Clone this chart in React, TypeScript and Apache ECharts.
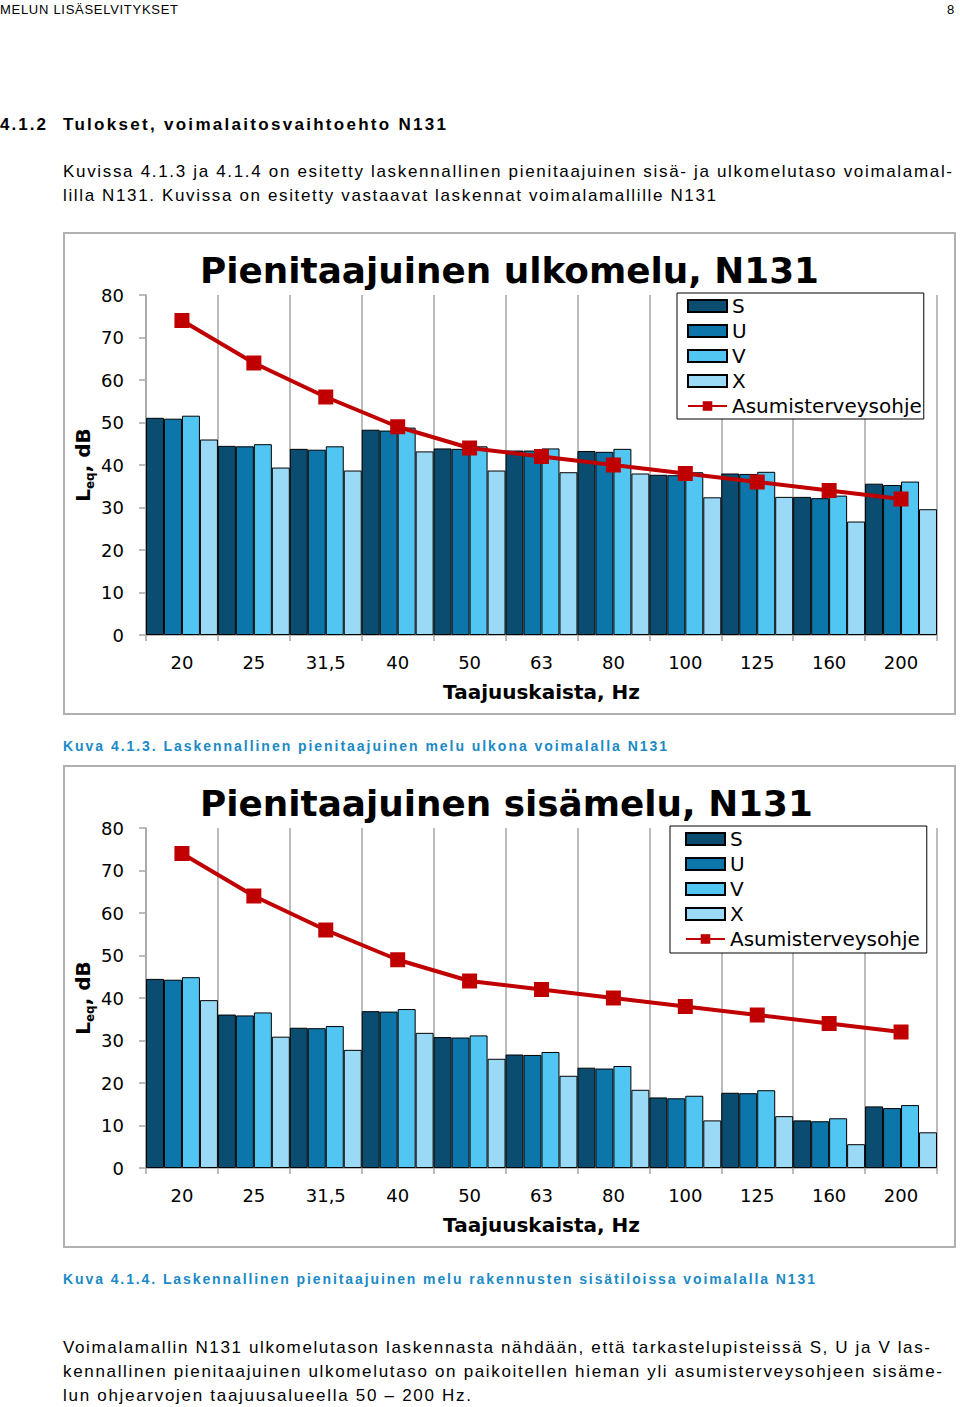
import React, { useEffect, useLayoutEffect, useRef } from "react";
import * as echarts from "echarts";

// ---- data ----
const categories = ["20", "25", "31,5", "40", "50", "63", "80", "100", "125", "160", "200"];
const yTicks = [0, 10, 20, 30, 40, 50, 60, 70, 80];
const seriesNames = ["S", "U", "V", "X"];
const guideName = "Asumisterveysohje";
const guideline = [74, 64, 56, 49, 44, 42, 40, 38, 36, 34, 32];

const outS = [51.1, 44.5, 43.8, 48.3, 43.9, 43.4, 43.3, 37.7, 38.0, 32.5, 35.6];
const outU = [50.9, 44.4, 43.6, 48.1, 43.8, 43.4, 43.1, 37.6, 37.9, 32.2, 35.3];
const outV = [51.6, 44.9, 44.4, 48.8, 44.4, 43.9, 43.8, 38.3, 38.4, 32.8, 36.1];
const outX = [46.0, 39.4, 38.7, 43.2, 38.7, 38.3, 38.0, 32.4, 32.5, 26.7, 29.6];

const inS = [44.5, 36.1, 33.0, 36.9, 30.8, 26.7, 23.6, 16.6, 17.7, 11.2, 14.5];
const inU = [44.3, 35.9, 32.9, 36.8, 30.7, 26.6, 23.4, 16.4, 17.6, 11.0, 14.1];
const inV = [44.9, 36.6, 33.4, 37.4, 31.2, 27.3, 24.0, 17.0, 18.3, 11.7, 14.8];
const inX = [39.5, 30.9, 27.8, 31.8, 25.7, 21.7, 18.4, 11.2, 12.2, 5.6, 8.4];

const title1 = "Pienitaajuinen ulkomelu, N131";
const title2 = "Pienitaajuinen sisämelu, N131";
const xName = "Taajuuskaista, Hz";

const barColors = ["#0b4d71", "#0c76aa", "#52c6f3", "#9bdaf6"];
const lineColor = "#c00000";
const gridGray = "#a6a6a6";
const FONT = '"DejaVu Sans", Verdana, sans-serif';
const DOC_FONT = '"Liberation Sans", Arial, sans-serif';
const CAPTION = "#1b8ac6";

function buildOption(title: string, values: number[][], legendPos: any) {
  const bars = values.map((vals, i) => ({
    name: seriesNames[i],
    type: "bar",
    data: vals,
    barGap: "0%",
    barCategoryGap: "0%",
    itemStyle: { color: barColors[i], borderColor: "#000", borderWidth: 1 },
    z: 2,
  }));
  return {
    animation: false,
    backgroundColor: "#fff",
    title: {
      text: title,
      left: 132,
      top: 15,
      textStyle: { fontFamily: FONT, fontWeight: "bold", fontSize: 35.8, color: "#000" },
    },
    graphic: [
      {
        type: "rect",
        silent: true,
        shape: { x: 1, y: 1, width: 891, height: 481 },
        style: { fill: "none", stroke: "#b0b0b0", lineWidth: 2 },
        z: 100,
      },
    ],
    legend: {
      orient: "vertical",
      left: legendPos.left,
      top: legendPos.top,
      padding: legendPos.padding,
      itemGap: 5,
      itemWidth: 39,
      itemHeight: 12,
      backgroundColor: "#fff",
      borderColor: "#000",
      borderWidth: 1,
      textStyle: { fontFamily: FONT, fontSize: 20, color: "#000" },
      data: [
        ...seriesNames.map((n) => ({ name: n, icon: "rect" })),
        { name: guideName },
      ],
      z: 10,
    },
    grid: { left: 83, top: 63, width: 791, height: 340, containLabel: false, outerBoundsMode: "none" },
    xAxis: {
      type: "category",
      data: categories,
      boundaryGap: true,
      name: xName,
      nameLocation: "middle",
      nameGap: 47,
      nameMoveOverlap: false,
      nameTextStyle: { fontFamily: FONT, fontWeight: "bold", fontSize: 20, color: "#000" },
      axisLine: { lineStyle: { color: gridGray, width: 1.5 } },
      axisTick: { show: true, length: 6, interval: 0, lineStyle: { color: gridGray, width: 1.5 } },
      axisLabel: { fontFamily: FONT, fontSize: 18, color: "#000", margin: 18, interval: 0 },
      splitLine: { show: true, interval: 0, lineStyle: { color: gridGray, width: 1.5 } },
    },
    yAxis: {
      type: "value",
      min: yTicks[0],
      max: yTicks[yTicks.length - 1],
      interval: 10,
      name: "{l|L}{s|eq}{l|, dB}",
      nameLocation: "middle",
      nameRotate: 90,
      nameGap: 50,
      nameMoveOverlap: false,
      nameTextStyle: {
        rich: {
          l: { fontFamily: FONT, fontWeight: "bold", fontSize: 20, color: "#000", lineHeight: 26 },
          s: { fontFamily: FONT, fontWeight: "bold", fontSize: 12, color: "#000", verticalAlign: "bottom", lineHeight: 26 },
        },
      },
      axisLine: { show: true, lineStyle: { color: gridGray, width: 1.5 } },
      axisTick: { show: true, length: 7, lineStyle: { color: gridGray, width: 1.5 } },
      axisLabel: { fontFamily: FONT, fontSize: 18, color: "#000", margin: 22 },
      splitLine: { show: false },
    },
    series: [
      ...bars,
      {
        name: guideName,
        type: "line",
        data: guideline,
        symbol: "rect",
        symbolSize: 15,
        z: 5,
        lineStyle: { color: lineColor, width: 4 },
        itemStyle: { color: lineColor },
      },
    ],
  };
}

function Chart({ left, top, option }: { left: number; top: number; option: any }) {
  const ref = useRef<HTMLDivElement>(null);
  useEffect(() => {
    const chart = echarts.init(ref.current!, null, { renderer: "svg" });
    chart.setOption(option);
    return () => chart.dispose();
  }, []);
  return <div ref={ref} style={{ position: "absolute", left, top, width: 893, height: 483 }} />;
}

type LineProps = { text: string; x: number; y: number; w?: number; size: number; bold?: boolean; color?: string };

function TextLine({ text, x, y, w, size, bold, color }: LineProps) {
  const ref = useRef<HTMLSpanElement>(null);
  useLayoutEffect(() => {
    const el = ref.current;
    if (!el || !w) return;
    el.style.letterSpacing = "0px";
    const natural = el.getBoundingClientRect().width;
    const n = Array.from(text).length;
    if (n > 1) el.style.letterSpacing = (w - natural) / (n - 1) + "px";
  }, [text, w]);
  const lh = size * 1.2;
  return (
    <span
      ref={ref}
      style={{
        position: "absolute",
        left: x,
        top: y - lh / 2,
        fontSize: size,
        lineHeight: lh + "px",
        fontFamily: DOC_FONT,
        fontWeight: bold ? "bold" : "normal",
        color: color || "#000",
        whiteSpace: "nowrap",
      }}
    >
      {text}
    </span>
  );
}

const docLines: LineProps[] = [
  { text: "MELUN LISÄSELVITYKSET", x: 0, y: 10, w: 178, size: 13 },
  { text: "8", x: 947, y: 10, size: 13 },
  { text: "4.1.2", x: 0, y: 125, w: 46, size: 17, bold: true },
  { text: "Tulokset, voimalaitosvaihtoehto N131", x: 63, y: 125, w: 383, size: 17, bold: true },
  { text: "Kuvissa 4.1.3 ja 4.1.4 on esitetty laskennallinen pienitaajuinen sisä- ja ulkomelutaso voimalamal-", x: 63, y: 172, w: 889, size: 17 },
  { text: "lilla N131. Kuvissa on esitetty vastaavat laskennat voimalamallille N131", x: 63, y: 196, w: 653, size: 17 },
  { text: "Kuva 4.1.3. Laskennallinen pienitaajuinen melu ulkona voimalalla N131", x: 63, y: 746, w: 604, size: 14, bold: true, color: CAPTION },
  { text: "Kuva 4.1.4. Laskennallinen pienitaajuinen melu rakennusten sisätiloissa voimalalla N131", x: 63, y: 1279, w: 752, size: 14, bold: true, color: CAPTION },
  { text: "Voimalamallin N131 ulkomelutason laskennasta nähdään, että tarkastelupisteissä S, U ja V las-", x: 63, y: 1348, w: 867, size: 17 },
  { text: "kennallinen pienitaajuinen ulkomelutaso on paikoitellen hieman yli asumisterveysohjeen sisäme-", x: 63, y: 1372, w: 879, size: 17 },
  { text: "lun ohjearvojen taajuusalueella 50 – 200 Hz.", x: 63, y: 1396, w: 408, size: 17 },
];

export default function App() {
  const opt1 = buildOption(title1, [outS, outU, outV, outX], { left: 614, top: 61, padding: [3, 2, 3, 10] });
  const opt2 = buildOption(title2, [inS, inU, inV, inX], { left: 607, top: 61, padding: [3, 7, 4, 15] });
  return (
    <div style={{ position: "absolute", left: 0, top: 0, width: 960, height: 1407, background: "#fff", overflow: "hidden" }}>
      {docLines.map((l, i) => (
        <TextLine key={i} {...l} />
      ))}
      <Chart left={63} top={232} option={opt1} />
      <Chart left={63} top={765} option={opt2} />
    </div>
  );
}
